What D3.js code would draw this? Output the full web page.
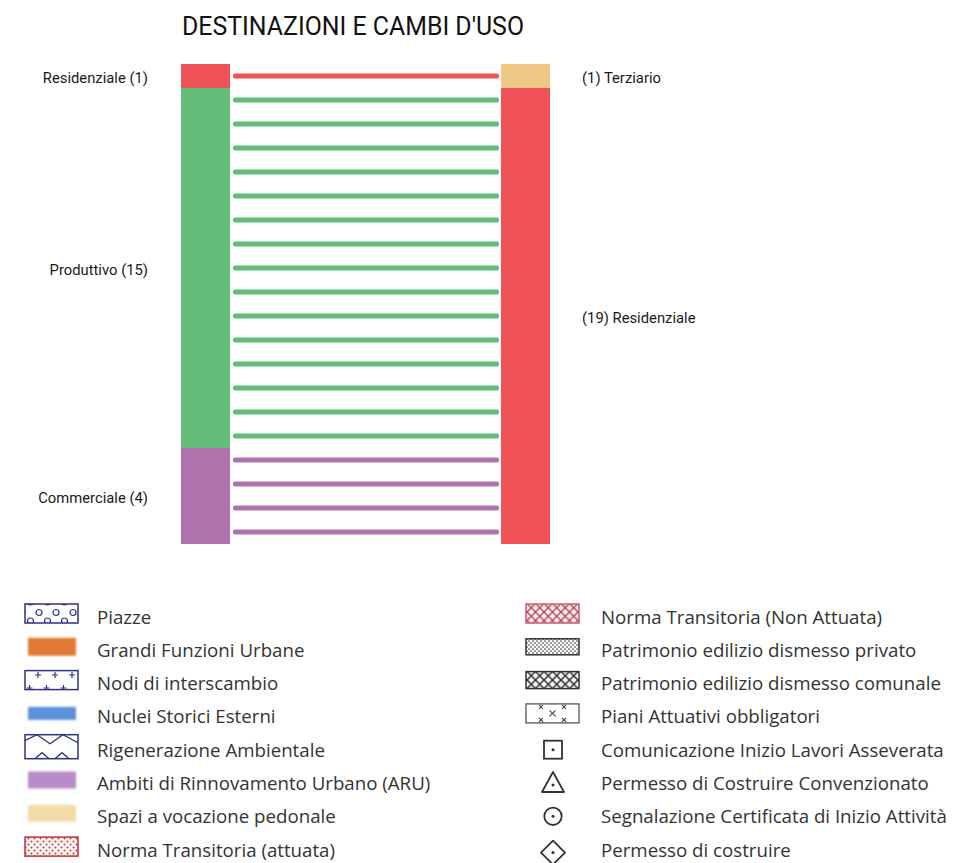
<!DOCTYPE html>
<html><head><meta charset="utf-8">
<script src="https://cdn.jsdelivr.net/npm/d3@7"></script>
<style>body{margin:0;background:#fff} svg{display:block}</style>
</head><body><script>
// ---------- DATA ----------
const title = "DESTINAZIONI E CAMBI D'USO";
const sourceCategories = ["Residenziale", "Produttivo", "Commerciale"];
const sourceCounts = [1, 15, 4];
const targetCategories = ["Terziario", "Residenziale"];
const targetCounts = [1, 19];
const legendLeftLabels = ["Piazze", "Grandi Funzioni Urbane", "Nodi di interscambio", "Nuclei Storici Esterni",
  "Rigenerazione Ambientale", "Ambiti di Rinnovamento Urbano (ARU)", "Spazi a vocazione pedonale", "Norma Transitoria (attuata)"];
const legendRightLabels = ["Norma Transitoria (Non Attuata)", "Patrimonio edilizio dismesso privato",
  "Patrimonio edilizio dismesso comunale", "Piani Attuativi obbligatori", "Comunicazione Inizio Lavori Asseverata",
  "Permesso di Costruire Convenzionato", "Segnalazione Certificata di Inizio Attività", "Permesso di costruire"];

// ---------- STYLE ----------
const colors = {Residenziale: "#ef5357", Produttivo: "#61bd78", Commerciale: "#ae73ad", Terziario: "#eec884"};
const legendLeftSymbols = ["piazze", "orange", "nodi", "blue", "rigen", "purple", "tan", "normaAtt"];
const legendRightSymbols = ["normaNon", "privato", "comunale", "piani", "square", "triangle", "circle", "diamond"];

const W = 953, H = 863;
const svg = d3.select("body").append("svg").attr("width", W).attr("height", H);
const defs = svg.append("defs");

const total = d3.sum(sourceCounts);
const y = d3.scaleLinear().domain([0, total]).range([64, 544]);
const x = d3.scalePoint().domain(["source", "target"]).range([181, 501]);
const barW = 49;
const lineX0 = 235.5, lineX1 = 496.5;

// title
svg.append("text").attr("x", 182).attr("y", 35)
  .attr("font-family", "Roboto, sans-serif").attr("font-size", 25.5).attr("fill", "#111")
  .attr("textLength", 342).attr("lengthAdjust", "spacingAndGlyphs")
  .text(title);

function stack(cats, counts) {
  const ends = d3.cumsum(counts);
  return cats.map((c, i) => ({cat: c, count: counts[i], y0: ends[i] - counts[i], y1: ends[i]}));
}
const srcStack = stack(sourceCategories, sourceCounts);
const tgtStack = stack(targetCategories, targetCounts);

// flows
const flows = [];
srcStack.forEach(s => { for (let k = 0; k < s.count; k++) flows.push({cat: s.cat, pos: s.y0 + k + 0.5}); });
const line = d3.line();
svg.append("g").selectAll("path").data(flows).join("path")
  .attr("d", d => line([[lineX0, y(d.pos)], [lineX1, y(d.pos)]]))
  .attr("stroke", d => colors[d.cat]).attr("stroke-width", 5.2).attr("stroke-linecap", "round").attr("fill", "none");

// bars
svg.append("g").selectAll("rect").data(srcStack).join("rect")
  .attr("x", x("source")).attr("width", barW)
  .attr("y", d => y(d.y0)).attr("height", d => y(d.y1) - y(d.y0)).attr("fill", d => colors[d.cat]);
svg.append("g").selectAll("rect").data(tgtStack).join("rect")
  .attr("x", x("target")).attr("width", barW)
  .attr("y", d => y(d.y0)).attr("height", d => y(d.y1) - y(d.y0)).attr("fill", d => colors[d.cat]);

// labels
const lblFont = "Roboto, sans-serif", lblSize = 14.8;
svg.append("g").selectAll("text").data(srcStack).join("text")
  .attr("x", 148).attr("y", d => y((d.y0 + d.y1) / 2) + 6.8)
  .attr("text-anchor", "end").attr("font-family", lblFont).attr("font-size", lblSize).attr("fill", "#1a1a1a")
  .text(d => `${d.cat} (${d.count})`);
svg.append("g").selectAll("text").data(tgtStack).join("text")
  .attr("x", 582).attr("y", d => y((d.y0 + d.y1) / 2) + 6.8)
  .attr("font-family", lblFont).attr("font-size", lblSize).attr("fill", "#1a1a1a")
  .text(d => `(${d.count}) ${d.cat}`);

// ---------- LEGEND ----------
const blur = defs.append("filter").attr("id", "soft").attr("x", "-20%").attr("y", "-40%").attr("width", "140%").attr("height", "180%");
blur.append("feGaussianBlur").attr("stdDeviation", 1.1);

function pattern(id, w, h, build) {
  const p = defs.append("pattern").attr("id", id).attr("patternUnits", "userSpaceOnUse").attr("width", w).attr("height", h);
  build(p);
}
pattern("pPiazze", 17, 19, p => {
  p.append("circle").attr("cx", 5).attr("cy", 4.5).attr("r", 3).attr("fill", "none").attr("stroke", "#2d3382").attr("stroke-width", 1.2);
  p.append("circle").attr("cx", 13.5).attr("cy", 13).attr("r", 3).attr("fill", "none").attr("stroke", "#2d3382").attr("stroke-width", 1.2);
});
pattern("pNodi", 17, 20, p => {
  [[4, 15], [12.5, 8]].forEach(([cx, cy]) => {
    p.append("path").attr("d", `M${cx - 3},${cy}H${cx + 3}M${cx},${cy - 3}V${cy + 3}`).attr("stroke", "#2d3382").attr("stroke-width", 1.2);
  });
});
pattern("pAtt", 6, 6, p => {
  p.append("rect").attr("width", 6).attr("height", 6).attr("fill", "#fdf3f3");
  p.append("circle").attr("cx", 1.5).attr("cy", 1.5).attr("r", 1).attr("fill", "#b04848");
  p.append("circle").attr("cx", 4.5).attr("cy", 4.5).attr("r", 1).attr("fill", "#b04848");
});
pattern("pNon", 8.5, 8.5, p => {
  p.append("rect").attr("width", 8.5).attr("height", 8.5).attr("fill", "#fbe8ec");
  p.append("path").attr("d", "M0,0L8.5,8.5M8.5,0L0,8.5").attr("stroke", "#a84655").attr("stroke-width", 1.3);
});
pattern("pPriv", 4, 4, p => {
  p.append("rect").attr("width", 4).attr("height", 4).attr("fill", "#fafafa");
  p.append("circle").attr("cx", 1).attr("cy", 1).attr("r", 0.85).attr("fill", "#444");
  p.append("circle").attr("cx", 3).attr("cy", 3).attr("r", 0.85).attr("fill", "#444");
});
pattern("pCom", 8.5, 8.5, p => {
  p.append("rect").attr("width", 8.5).attr("height", 8.5).attr("fill", "#f4f4f4");
  p.append("path").attr("d", "M0,0L8.5,8.5M8.5,0L0,8.5").attr("stroke", "#2c2c2c").attr("stroke-width", 1.5);
});

const rowY = i => 613.5 + 33.3 * i;
const legFont = "'Open Sans', sans-serif", legSize = 18.7, legColor = "#333";

function drawSymbol(g, type, bx, cy) {
  const bw = 53, bh = 19, top = cy - bh / 2;
  const box = (fill, stroke, sw) => g.append("rect").attr("x", bx).attr("y", top).attr("width", bw).attr("height", bh)
    .attr("fill", fill).attr("stroke", stroke).attr("stroke-width", sw);
  const swatch = (c, h) => g.append("rect").attr("x", bx + 3).attr("y", cy - h / 2).attr("width", 48).attr("height", h)
    .attr("fill", c).attr("filter", "url(#soft)");
  const ic = "#333";
  switch (type) {
    case "piazze": box("url(#pPiazze)", "#2d3382", 1.5); break;
    case "nodi": box("url(#pNodi)", "#2d3382", 1.5); break;
    case "orange": swatch("#e27a35", 18); break;
    case "blue": swatch("#5b90d8", 13); break;
    case "purple": swatch("#b88bc8", 17); break;
    case "tan": swatch("#f3dcaa", 17); break;
    case "rigen": {
      const r = box("#fff", "#2d3382", 1.5); r.attr("y", cy - 12).attr("height", 24);
      g.append("path").attr("d", `M${bx},${cy - 6}L${bx + 12},${cy - 12}L${bx + 25},${cy - 3}L${bx + 38},${cy - 12}L${bx + 53},${cy - 4}`)
        .attr("fill", "none").attr("stroke", "#2d3382").attr("stroke-width", 1.3);
      g.append("path").attr("d", `M${bx + 10},${cy + 12}L${bx + 17},${cy + 6}L${bx + 24},${cy + 12}M${bx + 30},${cy + 12}L${bx + 37},${cy + 6}L${bx + 44},${cy + 12}`)
        .attr("fill", "none").attr("stroke", "#2d3382").attr("stroke-width", 1.3);
      break;
    }
    case "normaAtt": box("url(#pAtt)", "#c9383d", 1.6); break;
    case "normaNon": box("url(#pNon)", "#d4607a", 1.6); break;
    case "privato": box("url(#pPriv)", "#333", 1.5).attr("y", cy - 8).attr("height", 16); break;
    case "comunale": box("url(#pCom)", "#333", 1.5).attr("y", cy - 8.5).attr("height", 17); break;
    case "piani": {
      box("#fff", "#555", 1.3);
      const mk = (mx, my, s) => g.append("path").attr("d", `M${mx - s},${my - s}L${mx + s},${my + s}M${mx + s},${my - s}L${mx - s},${my + s}`)
        .attr("stroke", "#444").attr("stroke-width", 1.1);
      mk(bx + 26.5, cy, 3); mk(bx + 15, top + 3, 2); mk(bx + 38, top + 3, 2); mk(bx + 15, top + bh - 3, 2); mk(bx + 38, top + bh - 3, 2);
      break;
    }
    case "square": {
      const c = cy + 3;
      g.append("rect").attr("x", bx + 18).attr("y", c - 9).attr("width", 18).attr("height", 18).attr("fill", "none").attr("stroke", ic).attr("stroke-width", 1.8);
      g.append("circle").attr("cx", bx + 27).attr("cy", c).attr("r", 1.5).attr("fill", ic);
      break;
    }
    case "triangle": {
      const c = cy + 2;
      g.append("path").attr("d", `M${bx + 27},${c - 10}L${bx + 38},${c + 10}L${bx + 16},${c + 10}Z`).attr("fill", "none").attr("stroke", ic).attr("stroke-width", 1.8).attr("stroke-linejoin", "round");
      g.append("circle").attr("cx", bx + 27).attr("cy", c + 3).attr("r", 1.5).attr("fill", ic);
      break;
    }
    case "circle": {
      const c = cy + 3;
      g.append("circle").attr("cx", bx + 27).attr("cy", c).attr("r", 8.7).attr("fill", "none").attr("stroke", ic).attr("stroke-width", 1.8);
      g.append("circle").attr("cx", bx + 27).attr("cy", c).attr("r", 1.5).attr("fill", ic);
      break;
    }
    case "diamond": {
      const c = cy + 6;
      g.append("path").attr("d", `M${bx + 27},${c - 12}L${bx + 39},${c}L${bx + 27},${c + 12}L${bx + 15},${c}Z`).attr("fill", "none").attr("stroke", ic).attr("stroke-width", 1.8).attr("stroke-linejoin", "round");
      g.append("circle").attr("cx", bx + 27).attr("cy", c).attr("r", 1.5).attr("fill", ic);
      break;
    }
  }
}

function legendColumn(labels, symbols, bx, tx) {
  const g = svg.append("g");
  labels.forEach((lab, i) => {
    const cy = rowY(i);
    drawSymbol(g.append("g"), symbols[i], bx, cy);
    g.append("text").attr("x", tx).attr("y", cy + 10).attr("font-family", legFont).attr("font-size", legSize)
      .attr("fill", legColor).text(lab);
  });
}
legendColumn(legendLeftLabels, legendLeftSymbols, 25, 97);
legendColumn(legendRightLabels, legendRightSymbols, 526, 601);
</script></body></html>
